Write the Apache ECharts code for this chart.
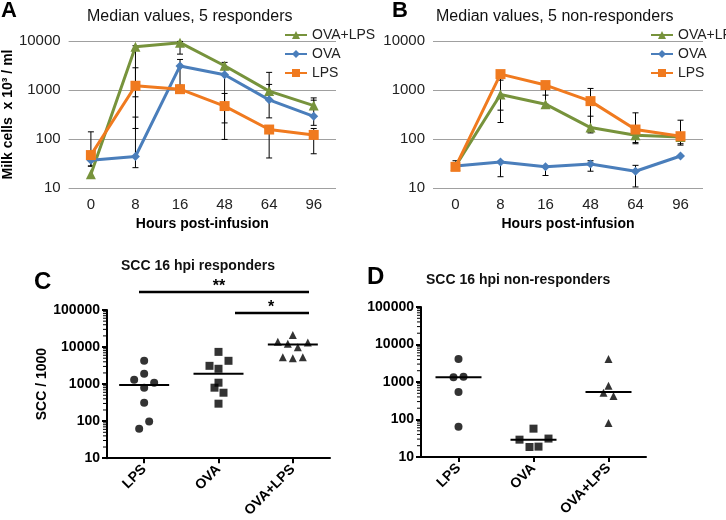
<!DOCTYPE html>
<html>
<head>
<meta charset="utf-8">
<script src="https://cdn.jsdelivr.net/npm/echarts@6/dist/echarts.min.js"></script>
<style>
  html, body { margin: 0; padding: 0; background: #fff; }
  #main { width: 726px; height: 520px; }
</style>
</head>
<body>
<div id="main"></div>
<script>
// ---- data ----
const hours = ['0', '8', '16', '48', '64', '96']
const groups = ['LPS', 'OVA', 'OVA+LPS']

// A: median values, 5 responders
const aOvaLps = [19, 7660, 9250, 3130, 950, 480]
const aOva = [37, 44, 3100, 2050, 630, 290]
const aLps = [47, 1220, 1040, 470, 156, 121]
const aOvaLpsLow = [null, 726, 5400, 2900, 800, 400]
const aOvaLpsHigh = [null, 8000, 9800, 3660, 2290, 690]
const aOvaLow = [28, 26, 1000, 213, 270, 190]
const aOvaHigh = [40, 280, 4200, 2600, 1300, 620]
const aLpsLow = [28, 164, 850, 98, 41, 50]
const aLpsHigh = [140, 2840, 1250, 850, 177, 164]

// B: median values, 5 non-responders
const bOvaLps = [28, 811, 514, 171, 119, 110]
const bOva = [28, 34, 27, 31, 22, 45]
const bLps = [27, 2110, 1260, 593, 156, 114]
const bOvaLpsLow = [null, 217, 514, 140, 80, 80]
const bOvaLpsHigh = [null, 1590, 1026, 292, 130, 120]
const bOvaLow = [28, 17, 18, 22, 10.5, null]
const bOvaHigh = [36, 35, 28, 36, 29, null]
const bLpsLow = [null, 388, 785, 133, 85, 75]
const bLpsHigh = [null, 2110, 1300, 1076, 342, 242]

// C: SCC 16 hpi responders (individual animals + median)
const cLps = [4250, 1310, 1900, 1090, 800, 315, 97, 62]
const cOva = [7400, 4250, 3110, 2590, 1090, 800, 585, 296]
const cOvaLps = [21200, 14000, 12200, 13200, 9930, 5330, 5010, 5330]
const cMedians = [940, 1900, 11700]

// D: SCC 16 hpi non-responders
const dLps = [4130, 1330, 1390, 540, 64]
const dOva = [57, 29, 31, 18.5, 18.9]
const dOvaLps = [4130, 800, 518, 422, 81]
const dMedians = [1340, 29, 540]

// ---- layout / style ----
const FONT = 'Liberation Sans, Arial, sans-serif'
const GREEN = '#77933C'
const BLUE = '#4A7EBB'
const ORANGE = '#F07A1F'

// horizontal jitter of the dots (px)
const cLpsJit = [0, -10, 0, 10, 0, 0, 5, -5]
const cOvaJit = [0, 10, -9, 0, 0, -4, 5, 0]
const cOvaLpsJit = [0, -15, -5, 15, 5, -10, 0, 10]
const dLpsJit = [0, -5, 5, 0, 0]
const dOvaJit = [0, -14, 15, -4, 5]
const dOvaLpsJit = [0, 0, -5, 5, 0]

const chart = echarts.init(document.getElementById('main'))

function lineAxisY (gi, showName) {
  return {
    type: 'log', logBase: 10, min: 10, max: 10000, gridIndex: gi,
    name: showName ? 'Milk cells  x 10³ / ml' : '',
    nameLocation: 'middle', nameGap: 46,
    nameTextStyle: { fontFamily: FONT, fontWeight: 'bold', fontSize: 14, color: '#000' },
    axisLine: { show: false }, axisTick: { show: false },
    axisLabel: { fontFamily: FONT, fontSize: 15, color: '#222', margin: 8, formatter: v => String(Math.round(v)) },
    splitLine: { show: true, lineStyle: { color: '#A0A0A0', width: 1 } }
  }
}

function lineAxisX (gi) {
  return {
    type: 'category', data: hours, gridIndex: gi, boundaryGap: true,
    name: 'Hours post-infusion', nameLocation: 'middle', nameGap: 29,
    nameTextStyle: { fontFamily: FONT, fontWeight: 'bold', fontSize: 14, color: '#000' },
    axisLine: { show: false }, axisTick: { show: false },
    axisLabel: { fontFamily: FONT, fontSize: 15, color: '#222', margin: 9 }
  }
}

function sccAxisY (gi, showName) {
  return {
    type: 'log', logBase: 10, min: 10, max: 100000, gridIndex: gi,
    name: showName ? 'SCC / 1000' : '',
    nameLocation: 'middle', nameGap: 53,
    nameTextStyle: { fontFamily: FONT, fontWeight: 'bold', fontSize: 14, color: '#000' },
    axisLine: { show: true, lineStyle: { color: '#000', width: 2 } },
    axisTick: { show: true, length: 5, lineStyle: { color: '#000', width: 2 } },
    axisLabel: { fontFamily: FONT, fontWeight: 'bold', fontSize: 14, color: '#000', margin: 7, formatter: v => String(Math.round(v)) },
    splitLine: { show: false }
  }
}

function sccAxisX (gi) {
  return {
    type: 'category', data: groups, gridIndex: gi,
    axisLine: { show: true, lineStyle: { color: '#000', width: 2 } },
    axisTick: { show: true, alignWithLabel: true, length: 5, lineStyle: { color: '#000', width: 2 } },
    axisLabel: { fontFamily: FONT, fontWeight: 'bold', fontSize: 14, color: '#000', rotate: 45, margin: 9 }
  }
}

function lineSeries (name, gi, data, color, symbol, size) {
  return {
    name: name, type: 'line', xAxisIndex: gi, yAxisIndex: gi, data: data,
    symbol: symbol, symbolSize: size, z: 3,
    lineStyle: { color: color, width: 3 },
    itemStyle: { color: color },
    emphasis: { disabled: true }
  }
}

function errSeries (gi, low, high) {
  const data = []
  low.forEach((l, i) => { if (l != null) data.push([i, l, high[i]]) })
  return {
    type: 'custom', xAxisIndex: gi, yAxisIndex: gi, z: 2, silent: true,
    data: data, encode: { x: 0, y: [1, 2] },
    renderItem: (params, api) => {
      const lo = api.coord([api.value(0), api.value(1)])
      const hi = api.coord([api.value(0), api.value(2)])
      const w = 3
      const st = { stroke: '#000', lineWidth: 1 }
      return {
        type: 'group', children: [
          { type: 'line', shape: { x1: lo[0], y1: lo[1], x2: hi[0], y2: hi[1] }, style: st },
          { type: 'line', shape: { x1: lo[0] - w, y1: lo[1], x2: lo[0] + w, y2: lo[1] }, style: st },
          { type: 'line', shape: { x1: hi[0] - w, y1: hi[1], x2: hi[0] + w, y2: hi[1] }, style: st }
        ]
      }
    }
  }
}

function dotSeries (gi, cat, values, jit, symbol, size) {
  return {
    type: 'scatter', xAxisIndex: gi, yAxisIndex: gi, symbol: symbol, symbolSize: size,
    itemStyle: { color: '#000' }, silent: true,
    data: values.map((v, i) => ({ value: [cat, v], symbolOffset: [jit[i], 0] }))
  }
}

function medianSeries (gi, medians, half) {
  return {
    type: 'custom', xAxisIndex: gi, yAxisIndex: gi, silent: true,
    data: medians.map((m, i) => [i, m]),
    renderItem: (params, api) => {
      const p = api.coord([api.value(0), api.value(1)])
      return { type: 'line', shape: { x1: p[0] - half, y1: p[1], x2: p[0] + half, y2: p[1] }, style: { stroke: '#000', lineWidth: 2 } }
    }
  }
}

// log minor ticks on the SCC y axes
const minorVals = []
for (let d = 10; d < 100000; d *= 10) {
  for (let k = 2; k <= 9; k++) minorVals.push(k * d)
}
function minorTickSeries (gi) {
  return {
    type: 'custom', xAxisIndex: gi, yAxisIndex: gi, silent: true, clip: false, z: 5,
    data: minorVals.map(v => [0, v]),
    renderItem: (params, api) => {
      const y = api.coord([0, api.value(1)])[1]
      const x = params.coordSys.x
      return { type: 'line', shape: { x1: x - 4, y1: y, x2: x, y2: y }, style: { stroke: '#000', lineWidth: 1 } }
    }
  }
}

const legendStyle = {
  orient: 'vertical', itemWidth: 22, itemHeight: 10, itemGap: 5,
  textStyle: { fontFamily: FONT, fontSize: 14, color: '#222' },
  data: ['OVA+LPS', 'OVA', 'LPS'], selectedMode: false
}

const option = {
  animation: false,
  backgroundColor: '#fff',
  grid: [
    { left: 67, top: 41, width: 269, height: 147 },
    { left: 433, top: 41, width: 270, height: 147 },
    { left: 107, top: 310, width: 223, height: 149 },
    { left: 421, top: 307, width: 225, height: 150 }
  ],
  title: [
    { text: 'Median values, 5 responders', left: 82, top: 4, textStyle: { fontFamily: FONT, fontSize: 16, fontWeight: 'normal', color: '#111' } },
    { text: 'Median values, 5 non-responders', left: 431, top: 4, textStyle: { fontFamily: FONT, fontSize: 16, fontWeight: 'normal', color: '#111' } },
    { text: 'SCC 16 hpi responders', left: 193, top: 254, textAlign: 'center', textStyle: { fontFamily: FONT, fontSize: 14, fontWeight: 'bold', color: '#111' } },
    { text: 'SCC 16 hpi non-responders', left: 421, top: 268, textStyle: { fontFamily: FONT, fontSize: 14, fontWeight: 'bold', color: '#111' } }
  ],
  legend: [
    Object.assign({ left: 279, top: 23 }, legendStyle),
    Object.assign({ left: 645, top: 23 }, legendStyle)
  ],
  xAxis: [lineAxisX(0), lineAxisX(1), sccAxisX(2), sccAxisX(3)],
  yAxis: [lineAxisY(0, true), lineAxisY(1, false), sccAxisY(2, true), sccAxisY(3, false)],
  graphic: [
    { type: 'text', left: 1, top: 0, style: { text: 'A', font: 'bold 22px ' + FONT, fill: '#000' } },
    { type: 'text', left: 392, top: 0, style: { text: 'B', font: 'bold 22px ' + FONT, fill: '#000' } },
    { type: 'text', left: 34, top: 270, style: { text: 'C', font: 'bold 24px ' + FONT, fill: '#000' } },
    { type: 'text', left: 367, top: 265, style: { text: 'D', font: 'bold 24px ' + FONT, fill: '#000' } },
    { type: 'line', shape: { x1: 139, y1: 292, x2: 309, y2: 292 }, style: { stroke: '#000', lineWidth: 2.5 } },
    { type: 'line', shape: { x1: 235, y1: 313, x2: 309, y2: 313 }, style: { stroke: '#000', lineWidth: 2.5 } },
    { type: 'text', x: 219, y: 287, style: { text: '**', font: 'bold 16px ' + FONT, fill: '#000', align: 'center', verticalAlign: 'middle' } },
    { type: 'text', x: 271, y: 308, style: { text: '*', font: 'bold 16px ' + FONT, fill: '#000', align: 'center', verticalAlign: 'middle' } }
  ],
  series: [
    errSeries(0, aOvaLpsLow, aOvaLpsHigh),
    errSeries(0, aOvaLow, aOvaHigh),
    errSeries(0, aLpsLow, aLpsHigh),
    lineSeries('OVA+LPS', 0, aOvaLps, GREEN, 'triangle', 10),
    lineSeries('OVA', 0, aOva, BLUE, 'diamond', 9),
    lineSeries('LPS', 0, aLps, ORANGE, 'rect', 10),

    errSeries(1, bOvaLpsLow, bOvaLpsHigh),
    errSeries(1, bOvaLow, bOvaHigh),
    errSeries(1, bLpsLow, bLpsHigh),
    lineSeries('OVA+LPS', 1, bOvaLps, GREEN, 'triangle', 10),
    lineSeries('OVA', 1, bOva, BLUE, 'diamond', 9),
    lineSeries('LPS', 1, bLps, ORANGE, 'rect', 10),

    dotSeries(2, 0, cLps, cLpsJit, 'circle', 8),
    dotSeries(2, 1, cOva, cOvaJit, 'rect', 8),
    dotSeries(2, 2, cOvaLps, cOvaLpsJit, 'triangle', 8),
    medianSeries(2, cMedians, 25),
    minorTickSeries(2),

    dotSeries(3, 0, dLps, dLpsJit, 'circle', 8),
    dotSeries(3, 1, dOva, dOvaJit, 'rect', 8),
    dotSeries(3, 2, dOvaLps, dOvaLpsJit, 'triangle', 8),
    medianSeries(3, dMedians, 23),
    minorTickSeries(3)
  ]
}

chart.setOption(option)
</script>
</body>
</html>
